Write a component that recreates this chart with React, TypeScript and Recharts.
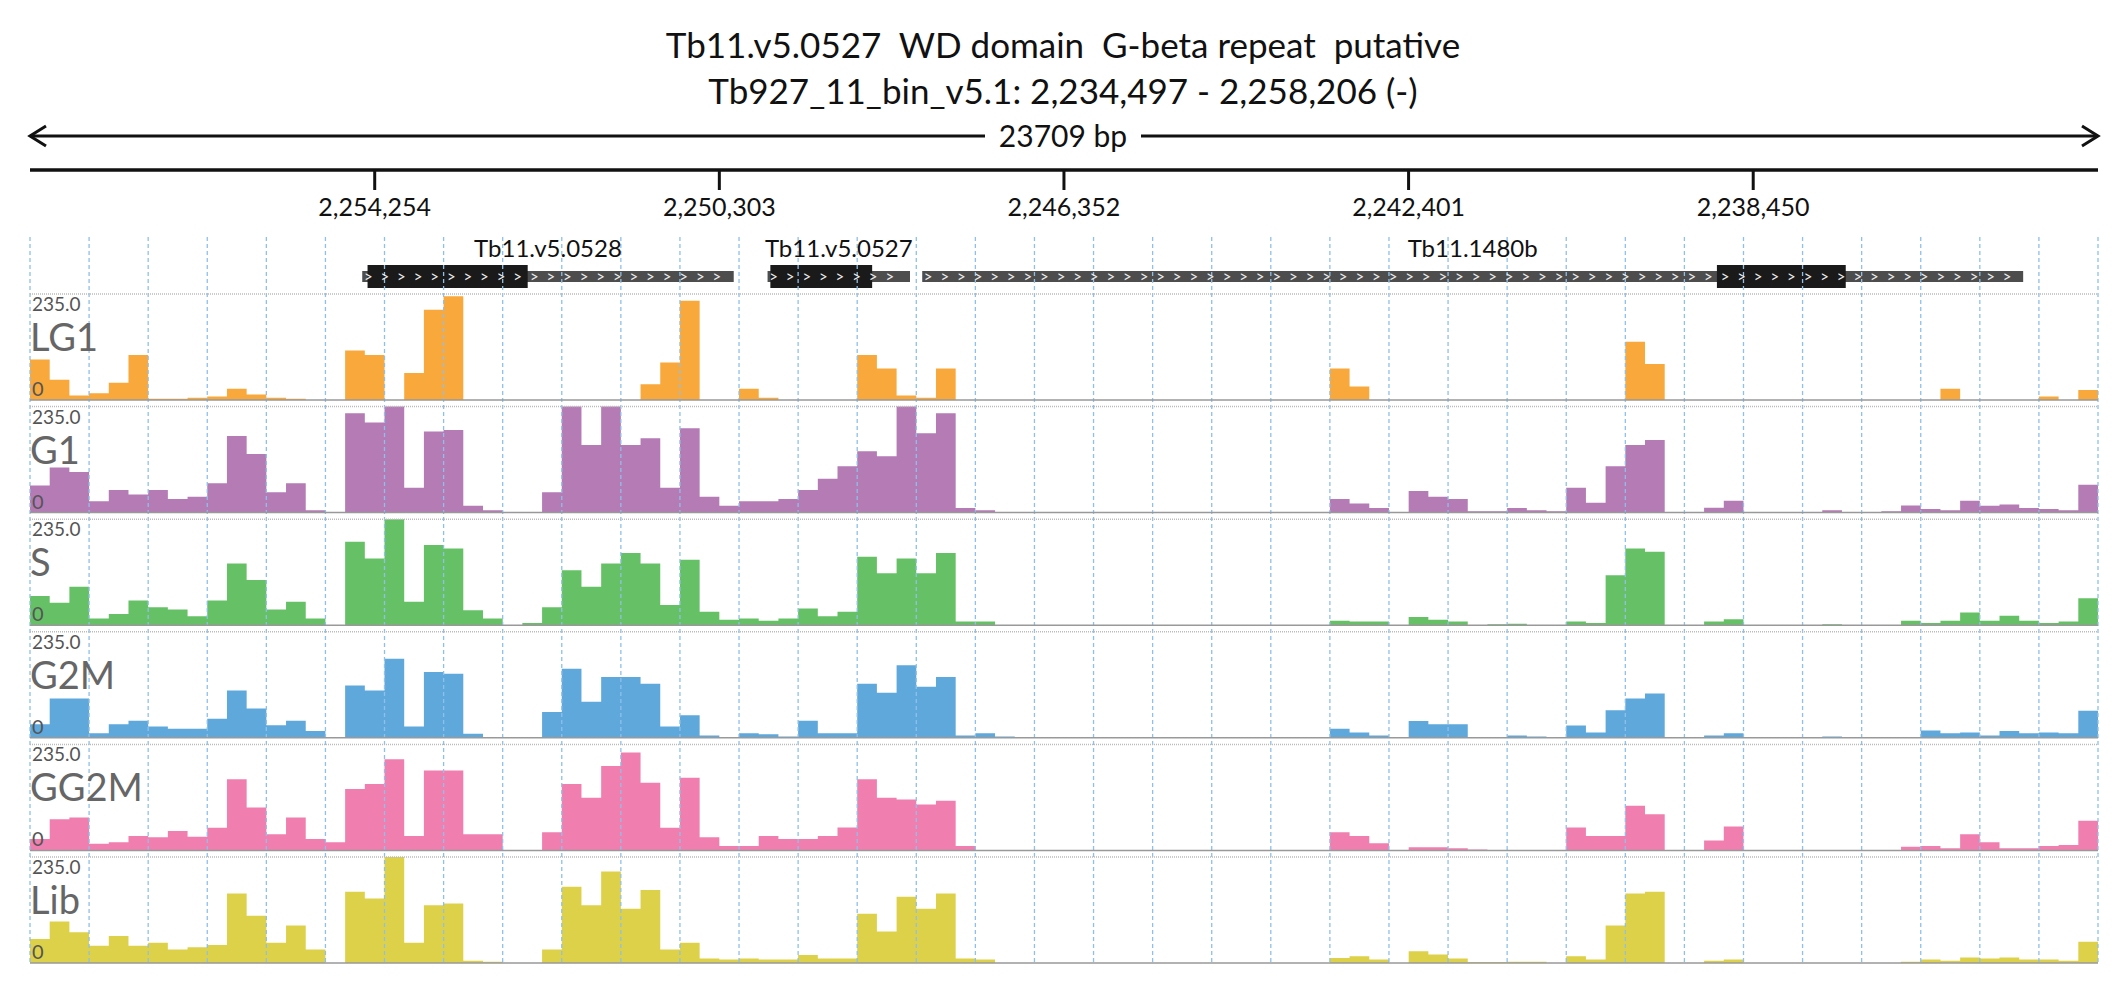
import React from "react";
import { ComposedChart, Area, XAxis, YAxis, ReferenceLine, ReferenceArea } from "recharts";

// 105 bins across the region, 3 per grid cell, values 0..235
const lg1 = [90,45,10, 15,38,100, 3,3,5, 8,25,12, 5,3,0, 0,110,100, 0,60,200, 230,0,0, 0,0,0, 0,0,0, 0,35,83, 220,0,0, 25,5,0, 0,0,0, 100,70,10, 5,70,0, 0,0,0, 0,0,0,
  0,0,0, 0,0,0, 0,0,0, 0,0,0, 70,30,0, 0,0,0, 0,0,0, 0,0,0, 0,0,0, 129,80,0, 0,0,0, 0,0,0, 0,0,0, 0,0,0, 0,25,0, 0,0,0, 8,0,22];
const g1 = [60,100,90, 25,50,40, 50,30,35, 65,170,130, 45,65,5, 0,220,200, 235,55,180, 183,15,5, 0,0,45, 235,150,235, 150,165,55, 187,35,15, 25,25,30, 50,75,103, 136,125,235, 176,220,10, 5,0,0, 0,0,0,
  0,0,0, 0,0,0, 0,0,0, 0,0,0, 30,20,10, 0,48,35, 30,3,3, 10,5,3, 55,22,103, 150,161,0, 0,11,26, 0,0,0, 0,5,0, 0,3,16, 8,5,26, 15,18,10, 8,5,62];
const sPhase = [65,50,85, 15,25,55, 40,35,20, 55,137,100, 35,52,15, 0,185,148, 235,52,178, 170,33,15, 0,5,40, 122,85,137, 160,137,45, 145,30,12, 15,10,15, 37,20,30, 152,115,148, 115,160,8, 8,0,0, 0,0,0,
  0,0,0, 0,0,0, 0,0,0, 0,0,0, 10,8,8, 0,18,12, 8,0,2, 3,0,0, 8,5,111, 170,163,0, 0,8,13, 0,0,0, 0,2,0, 0,0,10, 5,10,28, 10,21,10, 5,8,60];
const g2m = [30,87,87, 10,30,38, 25,20,20, 42,105,65, 28,38,15, 0,116,105, 175,25,146, 142,9,0, 0,0,57, 153,80,135, 135,120,25, 50,5,0, 10,8,3, 38,10,10, 120,100,161, 113,135,5, 10,3,0, 0,0,0,
  0,0,0, 0,0,0, 0,0,0, 0,0,0, 20,12,5, 0,37,30, 30,2,0, 5,3,0, 27,12,61, 87,98,0, 0,5,10, 0,0,0, 0,3,0, 0,0,0, 16,10,12, 5,15,10, 12,10,60];
const gg2m = [25,69,73, 15,18,32, 29,43,30, 50,158,95, 36,73,25, 18,136,147, 202,32,177, 177,36,36, 0,0,40, 147,117,187, 217,150,50, 161,29,10, 10,32,25, 25,32,51, 158,117,113, 102,110,10, 0,0,0, 0,0,0,
  0,0,0, 0,0,0, 0,0,0, 0,0,0, 40,32,16, 0,7,7, 5,2,0, 0,0,0, 51,32,32, 99,80,0, 0,22,53, 0,0,0, 0,0,0, 0,0,8, 10,5,36, 18,5,5, 10,12,66];
const lib = [53,92,68, 38,60,38, 45,30,35, 40,154,105, 45,83,30, 0,158,143, 235,45,128, 132,5,3, 0,0,30, 169,128,203, 120,162,30, 45,10,8, 10,8,8, 18,10,10, 109,70,147, 120,154,10, 8,0,0, 0,0,0,
  0,0,0, 0,0,0, 0,0,0, 0,0,0, 11,15,8, 0,26,19, 10,2,2, 3,3,0, 15,8,83, 154,158,0, 0,5,8, 0,0,0, 0,0,0, 0,0,3, 8,5,12, 10,12,8, 8,5,47];

const trackNames = ["LG1", "G1", "S", "G2M", "GG2M", "Lib"];
const trackValues = [lg1, g1, sPhase, g2m, gg2m, lib];
const trackColors = ["#f9a83b", "#b47bb5", "#66c166", "#5fa8dc", "#f07fb0", "#ddd14a"];

const regionStart = 2234497;
const regionEnd = 2258206;
const tickPositions = [2254254, 2250303, 2246352, 2242401, 2238450];

const geneNames = ["Tb11.v5.0528", "Tb11.v5.0527", "Tb11.1480b"];
const geneStart = [2254397, 2249750, 2247977];
const geneEnd = [2250138, 2248117, 2235355];
const cdsStart = [2254336, 2249718, 2238866];
const cdsEnd = [2252500, 2248551, 2237389];

const BINS = 105;
const W = 2126;
const H = 1000;
const LEFT = 30;
const RIGHT = 2098;
const TOP0 = 294;
const STEP = 112.6;
const TRACK_H = 106;
const FONT = "Lato, 'Open Sans', sans-serif";

const bpPerBin = (regionEnd - regionStart) / BINS;
const toBin = (g: number) => (regionEnd - g) / bpPerBin;
const toPx = (g: number) => LEFT + ((regionEnd - g) / (regionEnd - regionStart)) * (RIGHT - LEFT);
const baseY = (k: number) => H - (TOP0 + STEP * k + TRACK_H);
const topY = (k: number) => H - (TOP0 + STEP * k);

const rows = Array.from({ length: BINS + 1 }, (_, i) => {
  const row: any = { i };
  trackValues.forEach((vals, k) => {
    const v = vals[Math.min(i, BINS - 1)];
    row["t" + k] = [baseY(k), baseY(k) + (v / 235) * TRACK_H];
  });
  return row;
});

function Header() {
  const chevrons: React.ReactNode[] = [];
  geneNames.forEach((_, gi) => {
    const x0 = toPx(geneStart[gi]);
    const x1 = toPx(geneEnd[gi]);
    for (let x = x0 + 6; x < x1 - 6; x += 16.6) {
      chevrons.push(
        <text key={gi + "-" + x} x={x} y={282} fontSize={15} fill="#eee" fontFamily={FONT} textAnchor="middle">
          {">"}
        </text>
      );
    }
  });
  return (
    <svg width={W} height={H} style={{ position: "absolute", left: 0, top: 0, pointerEvents: "none" }}>
      <text x={1063} y={58} textAnchor="middle" fontSize={35} fontFamily={FONT} fill="#111" style={{ whiteSpace: "pre" }}>
        {"Tb11.v5.0527  WD domain  G-beta repeat  putative"}
      </text>
      <text x={1063} y={104} textAnchor="middle" fontSize={35} fontFamily={FONT} fill="#111">
        Tb927_11_bin_v5.1: 2,234,497 - 2,258,206 (-)
      </text>
      <line x1={LEFT} x2={RIGHT} y1={136} y2={136} stroke="#111" strokeWidth={3} />
      <polyline points={`${LEFT + 16},126 ${LEFT},136 ${LEFT + 16},146`} fill="none" stroke="#111" strokeWidth={3} />
      <polyline points={`${RIGHT - 16},126 ${RIGHT},136 ${RIGHT - 16},146`} fill="none" stroke="#111" strokeWidth={3} />
      <rect x={985} y={118} width={156} height={36} fill="#fff" />
      <text x={1063} y={147} textAnchor="middle" fontSize={30} fontFamily={FONT} fill="#111">
        23709 bp
      </text>
      <line x1={LEFT} x2={RIGHT} y1={170} y2={170} stroke="#111" strokeWidth={3.5} />
      {tickPositions.map((t) => (
        <g key={t}>
          <line x1={toPx(t)} x2={toPx(t)} y1={170} y2={190} stroke="#111" strokeWidth={3} />
          <text x={toPx(t)} y={216} textAnchor="middle" fontSize={25} fontFamily={FONT} fill="#111">
            {t.toLocaleString("en-US")}
          </text>
        </g>
      ))}
      {chevrons}
      {trackNames.map((n, k) => (
        <g key={n}>
          <text x={32} y={TOP0 + STEP * k + 17} fontSize={19} fontFamily={FONT} fill="#555">235.0</text>
          <text x={30} y={TOP0 + STEP * k + 57} fontSize={38} fontFamily={FONT} fill="#666">{n}</text>
          <text x={32} y={TOP0 + STEP * k + 102} fontSize={20} fontFamily={FONT} fill="#555">0</text>
        </g>
      ))}
    </svg>
  );
}

export default function App() {
  const grid = Array.from({ length: 36 }, (_, c) => c * 3);
  return (
    <div style={{ position: "absolute", left: 0, top: 0, width: W, height: H, background: "#fff" }}>
      <ComposedChart width={W} height={H} data={rows} margin={{ top: 0, right: W - RIGHT, bottom: 0, left: LEFT }}>
        <XAxis dataKey="i" type="number" domain={[0, BINS]} hide allowDataOverflow />
        <YAxis type="number" domain={[0, H]} hide allowDataOverflow />
        {grid.map((x) => (
          <ReferenceLine
            key={"g" + x}
            segment={[{ x, y: H - 237 }, { x, y: H - 963 }]}
            stroke="#8ec0ea"
            strokeDasharray="4 3"
            strokeWidth={1.3}
          />
        ))}
        {trackNames.map((n, k) => (
          <ReferenceLine
            key={"top" + n}
            segment={[{ x: 0, y: topY(k) }, { x: BINS, y: topY(k) }]}
            stroke="#bbb"
            strokeDasharray="1 1"
            strokeWidth={1.5}
          />
        ))}
        {trackNames.map((n, k) => (
          <Area
            key={n}
            dataKey={"t" + k}
            type="stepAfter"
            fill={trackColors[k]}
            fillOpacity={1}
            stroke="none"
            isAnimationActive={false}
          />
        ))}
        {trackNames.map((n, k) => (
          <ReferenceLine
            key={"base" + n}
            segment={[{ x: 0, y: baseY(k) }, { x: BINS, y: baseY(k) }]}
            stroke="#999"
            strokeWidth={1.5}
          />
        ))}
        {geneNames.map((g, gi) => (
          <ReferenceArea
            key={g}
            x1={toBin(geneStart[gi])}
            x2={toBin(geneEnd[gi])}
            y1={H - 282}
            y2={H - 271}
            fill="#4d4d4d"
            fillOpacity={1}
            stroke="none"
            label={{ value: g, position: "top", offset: 14, fontSize: 24, fontFamily: FONT, fill: "#111" }}
          />
        ))}
        {geneNames.map((g, gi) => (
          <ReferenceArea
            key={"cds" + g}
            x1={toBin(cdsStart[gi])}
            x2={toBin(cdsEnd[gi])}
            y1={H - 288}
            y2={H - 265}
            fill="#1a1a1a"
            fillOpacity={1}
            stroke="none"
          />
        ))}
      </ComposedChart>
      <Header />
    </div>
  );
}
